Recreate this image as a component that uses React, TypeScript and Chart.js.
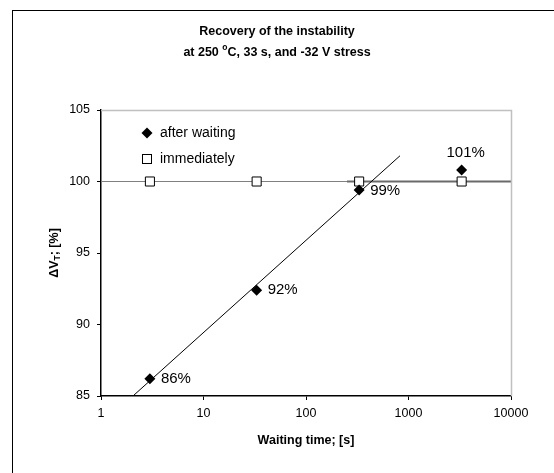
import React, { useEffect, useRef } from "react";
import { Chart, registerables } from "chart.js";

Chart.register(...registerables);

const waitingTimes = [3, 33, 330, 3300];
const afterWaiting = [86.2, 92.4, 99.4, 100.8];
const immediately = [100, 100, 100, 100];
const trendX = [2.05, 826];
const trendY = [85, 101.8];
const refLineX = [1, 10000];
const refLineY = [100, 100];
const satLineX = [251, 10000];
const satLineY = [100, 100];
const xTicks = [1, 10, 100, 1000, 10000];
const yTicks = [85, 90, 95, 100, 105];
const legendLabels = ["after waiting", "immediately"];
const titleLine1 = "Recovery of the instability";
const titleLine2a = "at 250 ";
const titleLine2sup = "o";
const titleLine2b = "C, 33 s, and -32 V stress";
const xTitle = "Waiting time; [s]";
const yTitleA = "\u0394V";
const yTitleSub = "T";
const yTitleB = "; [%]";

const FONT = "'Liberation Sans', Arial, sans-serif";

const overlay = {
  id: "overlay",
  afterDraw(chart: any) {
    const ctx = chart.ctx as CanvasRenderingContext2D;
    const ca = chart.chartArea;
    ctx.save();
    ctx.strokeStyle = "#c0c0c0";
    ctx.lineWidth = 1.5;
    ctx.beginPath();
    ctx.moveTo(ca.left, ca.top + 0.5);
    ctx.lineTo(ca.right + 0.5, ca.top + 0.5);
    ctx.lineTo(ca.right + 0.5, ca.bottom);
    ctx.stroke();

    ctx.fillStyle = "#000";
    ctx.textBaseline = "middle";
    ctx.font = `bold 12.5px ${FONT}`;
    ctx.textAlign = "center";
    const cx = 277;
    ctx.fillText(titleLine1, cx, 32);
    const wA = ctx.measureText(titleLine2a).width;
    const wB = ctx.measureText(titleLine2b).width;
    ctx.font = `bold 8.5px ${FONT}`;
    const wS = ctx.measureText(titleLine2sup).width;
    const total = wA + wS + wB;
    const x0 = cx - total / 2;
    ctx.textAlign = "left";
    ctx.font = `bold 12.5px ${FONT}`;
    ctx.fillText(titleLine2a, x0, 53);
    ctx.font = `bold 8.5px ${FONT}`;
    ctx.fillText(titleLine2sup, x0 + wA, 48);
    ctx.font = `bold 12.5px ${FONT}`;
    ctx.fillText(titleLine2b, x0 + wA + wS, 53);

    ctx.textAlign = "center";
    ctx.fillText(xTitle, (ca.left + ca.right) / 2, 441);

    ctx.save();
    ctx.translate(55, 253);
    ctx.rotate(-Math.PI / 2);
    ctx.font = `bold 12.5px ${FONT}`;
    const a = ctx.measureText(yTitleA).width;
    const b = ctx.measureText(yTitleB).width;
    ctx.font = `bold 8.5px ${FONT}`;
    const s = ctx.measureText(yTitleSub).width;
    const yx = -(a + s + b) / 2;
    ctx.textAlign = "left";
    ctx.font = `bold 12.5px ${FONT}`;
    ctx.fillText(yTitleA, yx, 0);
    ctx.font = `bold 8.5px ${FONT}`;
    ctx.fillText(yTitleSub, yx + a, 3);
    ctx.font = `bold 12.5px ${FONT}`;
    ctx.fillText(yTitleB, yx + a + s, 0);
    ctx.restore();

    const meta = chart.getDatasetMeta(0);
    ctx.font = `15px ${FONT}`;
    meta.data.forEach((pt: any, i: number) => {
      const label = Math.round(afterWaiting[i]) + "%";
      if (i === afterWaiting.length - 1) {
        ctx.textAlign = "center";
        ctx.fillText(label, pt.x + 4, pt.y - 17);
      } else {
        ctx.textAlign = "left";
        ctx.fillText(label, pt.x + 11, pt.y + (i === 2 ? 1 : 0));
      }
    });

    const lx = 147;
    const ly = [133, 159];
    ctx.font = `14px ${FONT}`;
    ctx.textAlign = "left";
    ctx.fillStyle = "#000";
    ctx.beginPath();
    ctx.moveTo(lx, ly[0] - 5.5);
    ctx.lineTo(lx + 5.5, ly[0]);
    ctx.lineTo(lx, ly[0] + 5.5);
    ctx.lineTo(lx - 5.5, ly[0]);
    ctx.closePath();
    ctx.fill();
    ctx.fillText(legendLabels[0], lx + 13, ly[0]);
    ctx.fillStyle = "#fff";
    ctx.strokeStyle = "#000";
    ctx.lineWidth = 1;
    ctx.fillRect(lx - 4.5, ly[1] - 4.5, 9, 9);
    ctx.strokeRect(lx - 4.5, ly[1] - 4.5, 9, 9);
    ctx.fillStyle = "#000";
    ctx.fillText(legendLabels[1], lx + 13, ly[1]);
    ctx.restore();
  },
};

export default function App() {
  const ref = useRef<HTMLCanvasElement>(null);
  useEffect(() => {
    if (!ref.current) return;
    const chart = new Chart(ref.current, {
      type: "scatter",
      data: {
        datasets: [
          {
            label: legendLabels[0],
            data: waitingTimes.map((x, i) => ({ x, y: afterWaiting[i] })),
            pointStyle: "rectRot",
            pointRadius: 5.5,
            backgroundColor: "#000",
            borderColor: "#000",
            borderWidth: 0,
            showLine: false,
          },
          {
            label: legendLabels[1],
            data: waitingTimes.map((x, i) => ({ x, y: immediately[i] })),
            pointStyle: "rect",
            pointRadius: 6.4,
            backgroundColor: "#fff",
            borderColor: "#000",
            borderWidth: 1,
            showLine: false,
          },
          {
            label: "trend",
            data: trendX.map((x, i) => ({ x, y: trendY[i] })),
            showLine: true,
            pointRadius: 0,
            borderColor: "#000",
            borderWidth: 1,
          },
          {
            label: "sat",
            data: satLineX.map((x, i) => ({ x, y: satLineY[i] })),
            showLine: true,
            pointRadius: 0,
            borderColor: "#6a6a6a",
            borderWidth: 2,
          },
          {
            label: "ref",
            data: refLineX.map((x, i) => ({ x, y: refLineY[i] })),
            showLine: true,
            pointRadius: 0,
            borderColor: "#808080",
            borderWidth: 1,
          },
        ],
      },
      options: {
        animation: false,
        responsive: false,
        layout: { padding: { left: 0, top: 110, right: 43, bottom: 0 } },
        plugins: {
          legend: { display: false },
          tooltip: { enabled: false },
          title: { display: false },
        },
        scales: {
          x: {
            type: "logarithmic",
            min: 1,
            max: 10000,
            afterBuildTicks: (scale: any) => {
              scale.ticks = xTicks.map((v) => ({ value: v }));
            },
            afterFit: (scale: any) => {
              scale.height = 77;
            },
            ticks: {
              font: { family: FONT, size: 12.5 },
              color: "#000",
              padding: 6,
              maxRotation: 0,
              autoSkip: false,
              callback: (v: any) => String(v),
            },
            grid: {
              drawOnChartArea: false,
              drawTicks: true,
              tickLength: 4,
              color: "#000",
            },
            border: { display: true, color: "#000", width: 1.5 },
          },
          y: {
            type: "linear",
            min: 85,
            max: 105,
            afterBuildTicks: (scale: any) => {
              scale.ticks = yTicks.map((v) => ({ value: v }));
            },
            afterFit: (scale: any) => {
              scale.width = 101;
            },
            ticks: {
              font: { family: FONT, size: 12.5 },
              color: "#000",
              padding: 7,
              callback: (v: any) => String(v),
            },
            grid: {
              drawOnChartArea: false,
              drawTicks: true,
              tickLength: 4,
              color: "#000",
            },
            border: { display: true, color: "#000", width: 1.5 },
          },
        },
      },
      plugins: [overlay],
    });
    return () => chart.destroy();
  }, []);

  return (
    <div
      style={{
        position: "absolute",
        left: 0,
        top: 0,
        width: 554,
        height: 473,
        overflow: "hidden",
        background: "#fff",
      }}
    >
      <div
        style={{
          position: "absolute",
          left: 12,
          top: 10,
          width: 700,
          height: 700,
          borderLeft: "1.5px solid #000",
          borderTop: "1.5px solid #000",
        }}
      />
      <canvas
        ref={ref}
        width={554}
        height={473}
        style={{ position: "absolute", left: 0, top: 0, width: 554, height: 473 }}
      />
    </div>
  );
}
